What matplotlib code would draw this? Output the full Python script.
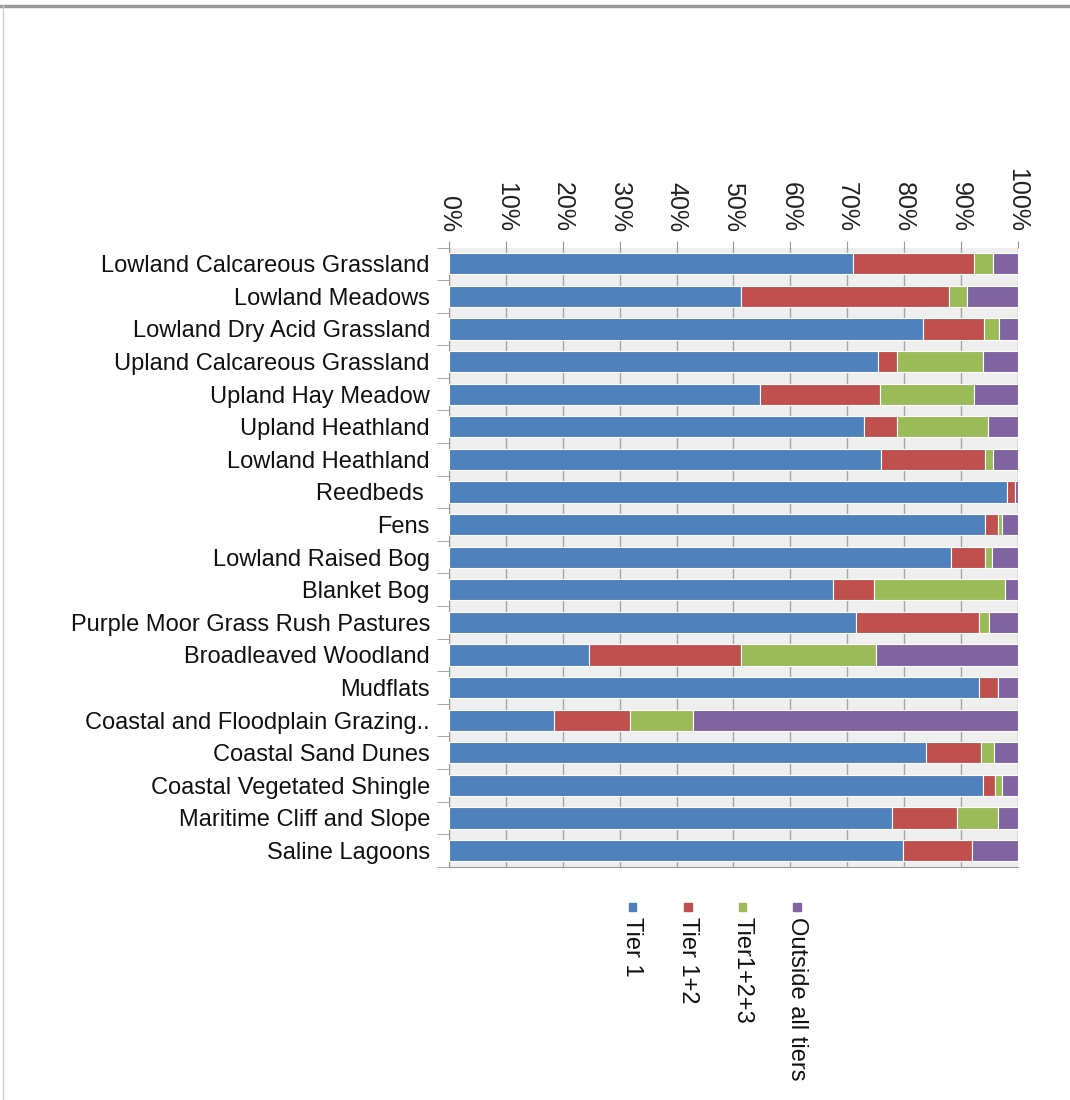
import numpy as np
import matplotlib
matplotlib.use('Agg')
import matplotlib.pyplot as plt
from matplotlib.patches import Rectangle
from matplotlib.lines import Line2D

plt.rcParams['font.family'] = ['Liberation Sans', 'DejaVu Sans']

habitats = ['Lowland Calcareous Grassland', 'Lowland Meadows', 'Lowland Dry Acid Grassland',
            'Upland Calcareous Grassland', 'Upland Hay Meadow', 'Upland Heathland',
            'Lowland Heathland', 'Reedbeds ', 'Fens', 'Lowland Raised Bog', 'Blanket Bog',
            'Purple Moor Grass Rush Pastures', 'Broadleaved Woodland', 'Mudflats',
            'Coastal and Floodplain Grazing..', 'Coastal Sand Dunes',
            'Coastal Vegetated Shingle', 'Maritime Cliff and Slope', 'Saline Lagoons']

# percentages
tier1 = [71.0, 51.4, 83.3, 75.5, 54.6, 73.0, 76.0, 98.2, 94.3, 88.2, 67.6, 71.6, 24.5, 93.2, 18.4, 83.9, 93.9, 77.9, 79.9]
tier12 = [21.4, 36.5, 10.8, 3.2, 21.1, 5.7, 18.3, 1.3, 2.3, 6.1, 7.1, 21.6, 26.9, 3.3, 13.4, 9.7, 2.2, 11.5, 12.0]
tier123 = [3.2, 3.2, 2.7, 15.2, 16.6, 16.1, 1.3, 0.0, 0.6, 1.2, 23.0, 1.8, 23.6, 0.0, 11.0, 2.3, 1.1, 7.1, 0.0]
outside = [4.4, 8.9, 3.2, 6.1, 7.7, 5.2, 4.4, 0.5, 2.8, 4.5, 2.3, 5.0, 25.0, 3.5, 57.2, 4.1, 2.8, 3.5, 8.1]

series = [tier1, tier12, tier123, outside]
names = ['Tier 1', 'Tier 1+2', 'Tier1+2+3', 'Outside all tiers']
colors = ['#4f81bd', '#c0504d', '#9bbb59', '#8064a2']

fig = plt.figure(figsize=(10.7, 11), dpi=100)
ax = fig.add_axes([0.42, 0.212, 0.531, 0.563])
ax.set_facecolor('#efefef')

y = np.arange(len(habitats))
left = np.zeros(len(habitats))
for vals, c in zip(series, colors):
    vals = np.array(vals)
    ax.barh(y, vals, left=left, height=0.65, color=c, edgecolor='white', linewidth=0.8, zorder=3)
    left += vals

ax.set_xlim(0, 100)
ax.set_ylim(len(habitats) - 0.5, -0.5)
ax.set_xticks(np.arange(0, 101, 10))
ax.set_xticklabels([f'{v}%' for v in range(0, 101, 10)], rotation=-90, fontsize=18, color='#222222')
ax.xaxis.tick_top()
ax.tick_params(axis='x', length=5, color='#999999', pad=6)
ax.grid(axis='x', color='#a6a6a6', linewidth=1.0, zorder=1)

ax.set_yticks(y)
ax.set_yticklabels(habitats, fontsize=17, color='#111111')
ax.set_yticks(np.arange(-0.5, len(habitats), 1), minor=True)
ax.tick_params(axis='y', which='major', length=0, pad=14)
ax.tick_params(axis='y', which='minor', length=9, color='#999999')

for s in ['top', 'right']:
    ax.spines[s].set_visible(False)
for s in ['left', 'bottom']:
    ax.spines[s].set_color('#999999')

# rotated legend under the plot
leg_x = [0.591, 0.643, 0.694, 0.745]
for lx, c, n in zip(leg_x, colors, names):
    fig.add_artist(Rectangle((lx - 0.0035, 0.172), 0.007, 0.007, color=c, transform=fig.transFigure))
    fig.text(lx, 0.166, n, rotation=-90, ha='center', va='top', fontsize=17, color='#111111')

# screenshot frame
fig.add_artist(Line2D([0, 1], [0.995, 0.995], color='#999999', linewidth=2.5, transform=fig.transFigure))
fig.add_artist(Line2D([0.003, 0.003], [0, 0.995], color='#d0d0d0', linewidth=1, transform=fig.transFigure))

fig.savefig('out.png', dpi=100)
